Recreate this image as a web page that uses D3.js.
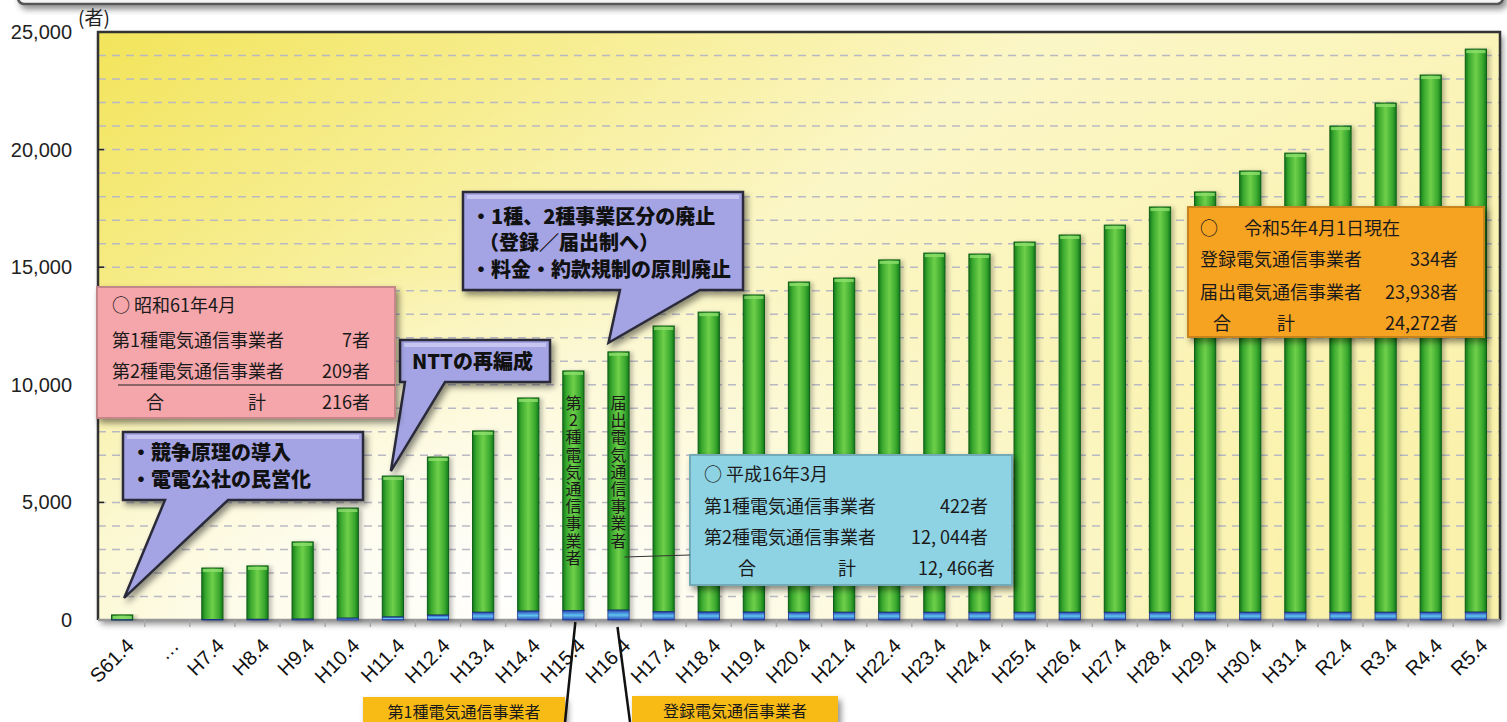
<!DOCTYPE html>
<html>
<head>
<meta charset="utf-8">
<script src="https://cdn.jsdelivr.net/npm/d3@7"></script>
<style>
  body { margin: 0; background: #fff; }
  svg { display: block; }
  .jp { font-family: "Noto Sans CJK JP", "Noto Sans", sans-serif; }
  .num { font-family: "Liberation Sans", Arial, sans-serif; }
</style>
</head>
<body>
<svg id="chart" width="1507" height="722"></svg>
<script>
// Categories (fiscal dates) and values
const categories = ["S61.4", "…", "H7.4", "H8.4", "H9.4", "H10.4", "H11.4", "H12.4", "H13.4",
  "H14.4", "H15.4", "H16.4", "H17.4", "H18.4", "H19.4", "H20.4", "H21.4", "H22.4", "H23.4",
  "H24.4", "H25.4", "H26.4", "H27.4", "H28.4", "H29.4", "H30.4", "H31.4", "R2.4", "R3.4",
  "R4.4", "R5.4"];
// type 1 / registered carriers (blue base)
const registered = [7, 0, 20, 30, 40, 80, 130, 210, 330, 380, 400, 420, 350, 340, 340, 330,
  330, 330, 330, 330, 330, 330, 330, 330, 330, 330, 330, 330, 330, 330, 334];
// type 2 / notified carriers (green)
const notified = [209, 0, 2190, 2270, 3280, 4680, 5990, 6720, 7710, 9060, 10190, 10980, 12150,
  12750, 13480, 14040, 14210, 14980, 15270, 15230, 15740, 16040, 16460, 17230, 17870, 18760,
  19520, 20670, 21650, 22840, 23938];
const yTicks = [0, 5000, 10000, 15000, 20000, 25000];

const svg = d3.select("#chart");
const margin = { left: 98, right: 7, top: 32, bottom: 102 };
const W = 1507, H = 722;

const x = d3.scaleBand().domain(categories).range([margin.left, W - margin.right])
  .paddingInner(0.53).paddingOuter(0.3);
const y = d3.scaleLinear().domain([0, 25000]).range([H - margin.bottom, margin.top]);

const defs = svg.append("defs");
const bg1 = defs.append("radialGradient").attr("id", "bgWhite")
  .attr("cx", "0.3").attr("cy", "0.95").attr("r", "0.55");
bg1.append("stop").attr("offset", "0").attr("stop-color", "#ffffff").attr("stop-opacity", 1);
bg1.append("stop").attr("offset", "1").attr("stop-color", "#ffffff").attr("stop-opacity", 0);
const bg2 = defs.append("linearGradient").attr("id", "bgYellow")
  .attr("x1", "0").attr("y1", "0").attr("x2", "1").attr("y2", "0.6");
bg2.append("stop").attr("offset", "0").attr("stop-color", "#f2e45a");
bg2.append("stop").attr("offset", "0.5").attr("stop-color", "#fbf6c6");
bg2.append("stop").attr("offset", "1").attr("stop-color", "#faf2ac");
const gGreen = defs.append("linearGradient").attr("id", "green");
[["0", "#137a1c"], ["0.18", "#3aa82e"], ["0.5", "#6fd04a"], ["0.82", "#3aa82e"], ["1", "#137a1c"]]
  .forEach(([o, c]) => gGreen.append("stop").attr("offset", o).attr("stop-color", c));
const gBlue = defs.append("linearGradient").attr("id", "blue").attr("x1", 0).attr("y1", 0).attr("x2", 0).attr("y2", 1);
[["0", "#2a44b8"], ["0.5", "#5fc4ef"], ["1", "#2a44b8"]]
  .forEach(([o, c]) => gBlue.append("stop").attr("offset", o).attr("stop-color", c));
const shadow = defs.append("filter").attr("id", "shadow").attr("x", "-10%").attr("y", "-10%")
  .attr("width", "130%").attr("height", "140%");
shadow.append("feDropShadow").attr("dx", 3).attr("dy", 4).attr("stdDeviation", 3)
  .attr("flood-color", "#000").attr("flood-opacity", 0.45);
const barShadow = defs.append("filter").attr("id", "barShadow").attr("x", "-20%").attr("y", "-5%")
  .attr("width", "160%").attr("height", "110%");
barShadow.append("feDropShadow").attr("dx", 3).attr("dy", 1).attr("stdDeviation", 2)
  .attr("flood-color", "#000").attr("flood-opacity", 0.25);

// Top frame remnant
svg.append("rect").attr("x", 18).attr("y", -30).attr("width", 1485).attr("height", 34)
  .attr("rx", 6).attr("fill", "#f4f4f4").attr("stroke", "#555").attr("stroke-width", 2.5)
  .attr("filter", "url(#shadow)");

// Plot background
const pw = W - margin.right - margin.left, ph = y(0) - y(25000);
svg.append("rect").attr("x", margin.left).attr("y", y(25000)).attr("width", pw).attr("height", ph)
  .attr("fill", "url(#bgYellow)").attr("filter", "url(#shadow)");
svg.append("rect").attr("x", margin.left).attr("y", y(25000)).attr("width", pw).attr("height", ph)
  .attr("fill", "url(#bgWhite)");

// Dashed gridlines every 1000
svg.append("g").selectAll("line").data(d3.range(1000, 25000, 1000)).join("line")
  .attr("x1", margin.left).attr("x2", W - margin.right)
  .attr("y1", d => y(d)).attr("y2", d => y(d))
  .attr("stroke", "#b9b9c4").attr("stroke-width", 1.5).attr("stroke-dasharray", "8,6");

// Frame
svg.append("path")
  .attr("d", `M${margin.left},${y(0)}V${y(25000)}H${W - margin.right}V${y(0)}`)
  .attr("fill", "none").attr("stroke", "#333").attr("stroke-width", 2.5);

// Y axis
const yAxis = svg.append("g").attr("transform", `translate(${margin.left},0)`)
  .call(d3.axisLeft(y).tickValues(yTicks).tickFormat(d3.format(",")).tickSize(0).tickPadding(26));
yAxis.select(".domain").remove();
yAxis.selectAll("text").attr("class", "num").attr("font-size", 20).attr("fill", "#222");
svg.append("g").selectAll("line").data(yTicks.slice(1, -1)).join("line")
  .attr("x1", margin.left).attr("x2", margin.left + 6)
  .attr("y1", d => y(d)).attr("y2", d => y(d)).attr("stroke", "#222").attr("stroke-width", 1.5);
svg.append("text").attr("class", "jp").attr("x", 78).attr("y", 25)
  .attr("font-size", 19).attr("fill", "#222").text("(者)");

// X axis
const xAxisG = svg.append("g").attr("transform", `translate(0,${y(0)})`);
xAxisG.append("line").attr("x1", margin.left).attr("x2", W - margin.right)
  .attr("stroke", "#999").attr("stroke-width", 2.5);
xAxisG.selectAll(".tk").data(categories.slice(1)).join("line").attr("class", "tk")
  .attr("x1", d => x(d) - x.step() * x.paddingInner() / 2)
  .attr("x2", d => x(d) - x.step() * x.paddingInner() / 2)
  .attr("y1", 0).attr("y2", 7).attr("stroke", "#aaa").attr("stroke-width", 1.5);
xAxisG.selectAll(".lbl").data(categories).join("text").attr("class", "lbl num")
  .attr("transform", d => `translate(${x(d) + x.bandwidth() / 2 + 13},${27}) rotate(-45)`)
  .attr("text-anchor", "end").attr("font-size", 20).attr("fill", "#111")
  .text(d => d);

// Bars
const bars = svg.append("g").selectAll("g").data(categories).join("g")
  .filter((d, i) => registered[i] + notified[i] > 0)
  .attr("filter", "url(#barShadow)");
bars.append("rect")
  .attr("x", d => x(d)).attr("width", x.bandwidth())
  .attr("y", d => { const i = categories.indexOf(d); return y(registered[i] + notified[i]); })
  .attr("height", d => { const i = categories.indexOf(d); return y(registered[i]) - y(registered[i] + notified[i]); })
  .attr("fill", "url(#green)").attr("stroke", "#0f5e17").attr("stroke-width", 1);
bars.append("rect")
  .attr("x", d => x(d) + 1).attr("width", x.bandwidth() - 2)
  .attr("y", d => { const i = categories.indexOf(d); return y(registered[i] + notified[i]) + 1; })
  .attr("height", 3).attr("fill", "#8fe06e").attr("opacity", 0.8);
bars.append("rect")
  .attr("x", d => x(d)).attr("width", x.bandwidth())
  .attr("y", d => y(registered[categories.indexOf(d)]))
  .attr("height", d => y(0) - y(registered[categories.indexOf(d)]))
  .attr("fill", "url(#blue)").attr("stroke", "#1d2f8a").attr("stroke-width", 0.8);

// Helpers
const cx = c => x(c) + x.bandwidth() / 2;
const barTop = c => { const i = categories.indexOf(c); return y(registered[i] + notified[i]); };

function callout(box, base, tip, lines, lh) {
  const g = svg.append("g").attr("filter", "url(#shadow)");
  g.append("path")
    .attr("d", `M${box.x},${box.y}H${box.x + box.w}V${box.y + box.h}H${base[1]}L${tip[0]},${tip[1]}L${base[0]},${box.y + box.h}H${box.x}Z`)
    .attr("fill", "#a4a4e4").attr("stroke", "#2b2b3a").attr("stroke-width", 2.5);
  g.append("rect").attr("x", box.x + 4).attr("y", box.y + 3).attr("width", box.w - 8).attr("height", 4)
    .attr("fill", "#d4d4f6").attr("opacity", 0.7);
  lines.forEach(l => svg.append("text").attr("class", "jp")
    .attr("x", box.x + l.dx).attr("y", box.y + l.dy)
    .attr("font-size", lh).attr("font-weight", 900).attr("fill", "#111").text(l.t));
}

callout({ x: 123, y: 432, w: 240, h: 68 }, [165, 228], [cx("S61.4") + 2, barTop("S61.4") - 17],
  [{ t: "・競争原理の導入", dx: 8, dy: 28 }, { t: "・電電公社の民営化", dx: 8, dy: 55 }], 20);
callout({ x: 400, y: 340, w: 150, h: 42 }, [405, 445], [cx("H11.4") - 2, barTop("H11.4") - 5],
  [{ t: "NTTの再編成", dx: 12, dy: 29 }], 20);
callout({ x: 463, y: 192, w: 280, h: 98 }, [620, 700], [cx("H16.4") - 10, barTop("H16.4") - 9],
  [{ t: "・1種、2種事業区分の廃止", dx: 8, dy: 32 }, { t: "（登録／届出制へ）", dx: 16, dy: 58 },
   { t: "・料金・約款規制の原則廃止", dx: 8, dy: 85 }], 20);

// Info boxes
function infoBox(box, fill, rows, fs) {
  svg.append("rect").attr("x", box.x).attr("y", box.y).attr("width", box.w).attr("height", box.h)
    .attr("fill", fill).attr("stroke", d3.color(fill).darker(0.6)).attr("stroke-width", 2)
    .attr("filter", "url(#shadow)");
  rows.forEach(r => svg.append("text").attr("class", "jp")
    .attr("x", r.x).attr("y", r.y).attr("text-anchor", r.anchor || "start")
    .attr("font-size", fs).attr("fill", "#1a1a1a").text(r.t));
}

infoBox({ x: 97, y: 287, w: 298, h: 131 }, "#f4a6ab", [
  { t: "○  昭和61年4月", x: 112, y: 312 },
  { t: "第1種電気通信事業者", x: 112, y: 347 },
  { t: "7者", x: 370, y: 347, anchor: "end" },
  { t: "第2種電気通信事業者", x: 112, y: 378 },
  { t: "209者", x: 370, y: 378, anchor: "end" },
  { t: "合", x: 146, y: 409 }, { t: "計", x: 248, y: 409 },
  { t: "216者", x: 370, y: 409, anchor: "end" }
], 18);
svg.append("line").attr("x1", 118).attr("x2", 395).attr("y1", 385).attr("y2", 385)
  .attr("stroke", "#222").attr("stroke-width", 1.2);

infoBox({ x: 690, y: 455, w: 322, h: 130 }, "#8ed3e3", [
  { t: "○   平成16年3月", x: 704, y: 481 },
  { t: "第1種電気通信事業者", x: 704, y: 513 },
  { t: "422者", x: 988, y: 513, anchor: "end" },
  { t: "第2種電気通信事業者", x: 704, y: 544 },
  { t: "12, 044者", x: 988, y: 544, anchor: "end" },
  { t: "合", x: 738, y: 575 }, { t: "計", x: 838, y: 575 },
  { t: "12, 466者", x: 995, y: 575, anchor: "end" }
], 18);

infoBox({ x: 1188, y: 207, w: 296, h: 130 }, "#f6a324", [
  { t: "○", x: 1200, y: 235 }, { t: "令和5年4月1日現在", x: 1244, y: 235 },
  { t: "登録電気通信事業者", x: 1200, y: 266 },
  { t: "334者", x: 1458, y: 266, anchor: "end" },
  { t: "届出電気通信事業者", x: 1200, y: 299 },
  { t: "23,938者", x: 1458, y: 299, anchor: "end" },
  { t: "合", x: 1213, y: 330 }, { t: "計", x: 1277, y: 330 },
  { t: "24,272者", x: 1458, y: 330, anchor: "end" }
], 18);

// Vertical labels inside bars
function vtext(c, str, y0) {
  svg.append("text").attr("class", "jp")
    .attr("x", cx(c)).attr("y", y0)
    .style("writing-mode", "vertical-rl").style("text-orientation", "upright")
    .attr("letter-spacing", 1.2)
    .attr("font-size", 16).attr("fill", "#1a1a1a").text(str);
}
vtext("H15.4", "第2種電気通信事業者", 395);
vtext("H16.4", "届出電気通信事業者", 395);

// Leader from H16.4 bar to cyan box
svg.append("line").attr("x1", cx("H16.4") + 6).attr("y1", 557).attr("x2", 690).attr("y2", 555)
  .attr("stroke", "#333").attr("stroke-width", 1.2);

// Bottom labels
function bottomLabel(box, t) {
  svg.append("rect").attr("x", box.x).attr("y", box.y).attr("width", box.w).attr("height", 40)
    .attr("fill", "#f8bb19").attr("filter", "url(#shadow)");
  svg.append("text").attr("class", "jp").attr("x", box.x + box.w / 2).attr("y", box.y + 21)
    .attr("text-anchor", "middle").attr("font-size", 16).attr("fill", "#1a1a1a").text(t);
}
bottomLabel({ x: 363, y: 697, w: 202 }, "第1種電気通信事業者");
bottomLabel({ x: 632, y: 696, w: 206 }, "登録電気通信事業者");
svg.append("line").attr("x1", cx("H15.4") + 2).attr("y1", y(0) + 2).attr("x2", 565).attr("y2", 722)
  .attr("stroke", "#111").attr("stroke-width", 2.5);
svg.append("line").attr("x1", cx("H16.4") - 1).attr("y1", y(0) + 7).attr("x2", 630).attr("y2", 722)
  .attr("stroke", "#111").attr("stroke-width", 2.5);
</script>
</body>
</html>
